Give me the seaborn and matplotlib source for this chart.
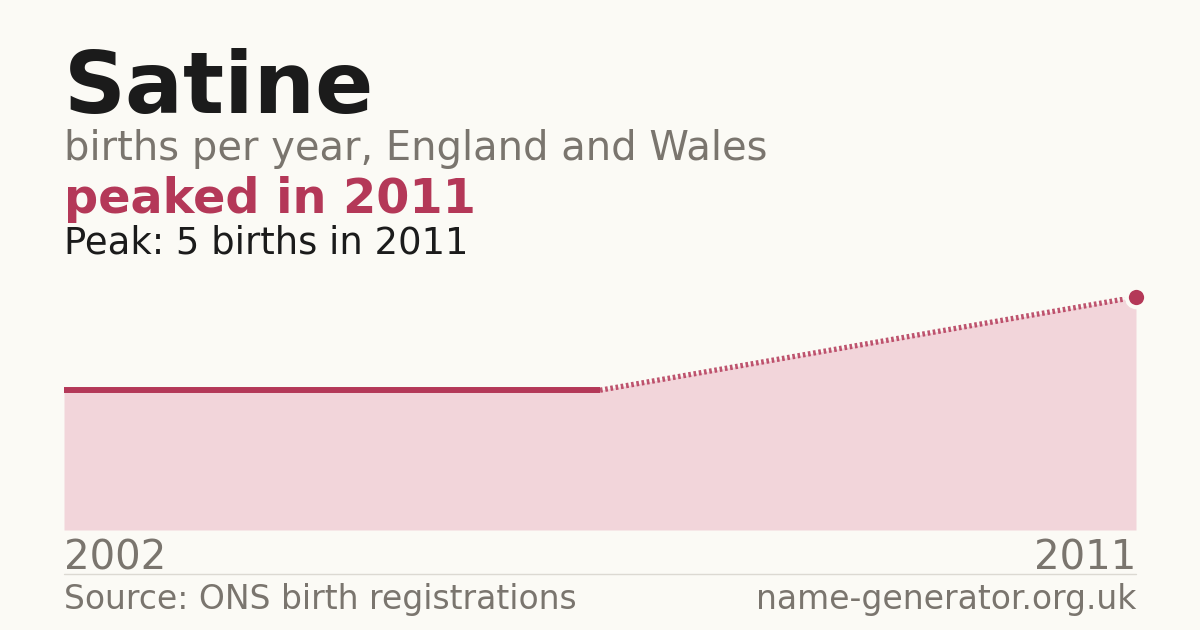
import os
import matplotlib
matplotlib.use("Agg")
import matplotlib.pyplot as plt
from matplotlib.font_manager import FontProperties
import seaborn as sns
import pandas as pd

# ---- data ----
years = ["2002", "2003", "2011"]
births = [3, 3, 5]
first_label = "2002"
last_label = "2011"

title = "Satine"
subtitle = "births per year, England and Wales"
headline = "peaked in 2011"
peak_text = "Peak: 5 births in 2011"
source = "Source: ONS birth registrations"
site = "name-generator.org.uk"

BG = "#fbfaf5"
RED = "#b43858"
FILL = "#f2d5da"
GRAY = "#7a756e"
DARK = "#1b1b1b"

sns.set_theme(style="white")
plt.rcParams['font.family'] = ['DejaVu Sans']

ttf = os.path.join(matplotlib.get_data_path(), "fonts", "ttf")
REG = FontProperties(fname=os.path.join(ttf, "DejaVuSans.ttf"))
BOLD = FontProperties(fname=os.path.join(ttf, "DejaVuSans-Bold.ttf"))

fig = plt.figure(figsize=(12, 6.3), dpi=100, facecolor=BG)
W, H = 1200, 630
ax = fig.add_axes([64 / W, 1 - 530 / H, (1136 - 64) / W, (530 - 297) / H])
ax.set_facecolor(BG)

df = pd.DataFrame({"idx": list(range(len(years))), "births": births, "year": years})
ax.fill_between(df["idx"], 0, df["births"], color=FILL, lw=0, zorder=1)

solid = df.iloc[:2]
gap = df.iloc[1:]
sns.lineplot(data=solid, x="idx", y="births", ax=ax, color=RED, lw=4.3,
             solid_capstyle="butt", zorder=3)
sns.lineplot(data=gap, x="idx", y="births", ax=ax, color=RED, lw=3.8,
             dashes=False, zorder=3, alpha=0.85)
ax.lines[-1].set_dashes((0.5, 0.5))
ax.lines[-1].set_dash_capstyle("butt")

ax.plot([df["idx"].iloc[-1]], [df["births"].iloc[-1]], marker="o", ms=14,
        color=RED, mec=BG, mew=3, clip_on=False, zorder=5)

ax.set_xlim(0, len(years) - 1)
ax.set_ylim(0, max(births))
ax.set_xlabel("")
ax.set_ylabel("")
ax.set_xticks([])
ax.set_yticks([])
for s in ax.spines.values():
    s.set_visible(False)

def fy(px):
    return 1 - px / H

def txt(x, y, s, size, bold=False, **kw):
    fp = (BOLD if bold else REG).copy()
    fp.set_size(size)
    fig.text(x / W, fy(y), s, fontproperties=fp, va="baseline", **kw)

txt(64, 113, title, 62, bold=True, color=DARK)
txt(64, 160, subtitle, 28.8, color=GRAY)
txt(64, 213, headline, 34.4, bold=True, color=RED)
txt(64, 253, peak_text, 26.6, color=DARK)
txt(64, 569, first_label, 29, color=GRAY, ha="left")
txt(1136, 569, last_label, 29, color=GRAY, ha="right")
fig.add_artist(plt.Line2D([64 / W, 1136 / W], [fy(574), fy(574)], color="#dcd9d2", lw=1))
txt(64, 609, source, 23.8, color=GRAY, ha="left")
txt(1136, 609, site, 23.8, color=GRAY, ha="right")

fig.savefig("out.png", dpi=100, facecolor=BG)
